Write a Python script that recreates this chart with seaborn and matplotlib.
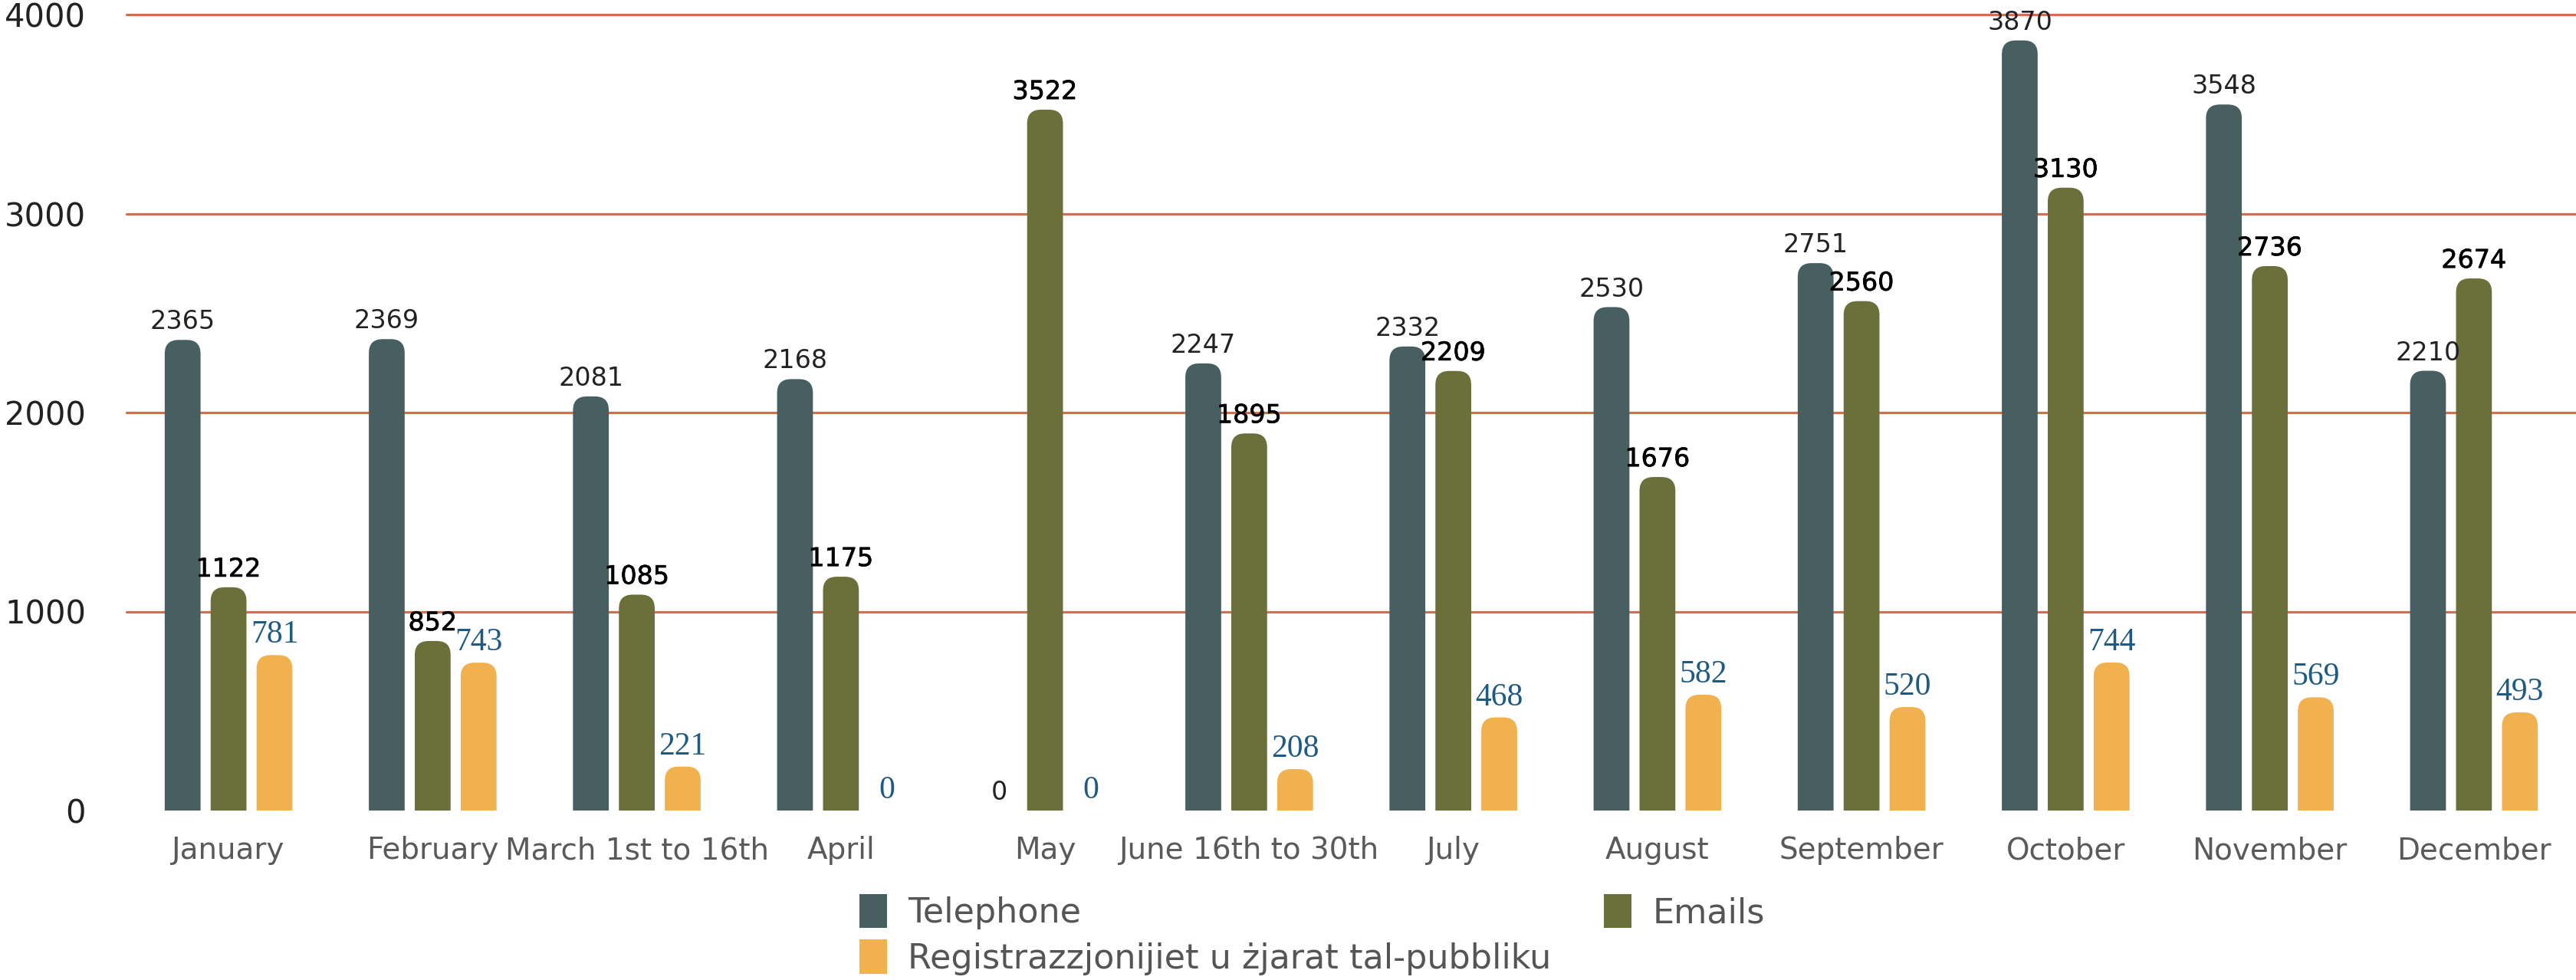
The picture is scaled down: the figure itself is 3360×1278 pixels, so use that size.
import numpy as np
import pandas as pd
import matplotlib
matplotlib.use("Agg")
import matplotlib.pyplot as plt
import matplotlib.patches as mpatches
import matplotlib.patheffects as pe
from matplotlib.patches import FancyBboxPatch
import seaborn as sns

# dati
xhur = ["January", "February", "March 1st to 16th", "April", "May", "June 16th to 30th",
        "July", "August", "September", "October", "November", "December"]
telephone = [2365, 2369, 2081, 2168, 0, 2247, 2332, 2530, 2751, 3870, 3548, 2210]
emails = [1122, 852, 1085, 1175, 3522, 1895, 2209, 1676, 2560, 3130, 2736, 2674]
registrazzjonijiet = [781, 743, 221, 0, 0, 208, 468, 582, 520, 744, 569, 493]
serje = ["Telephone", "Emails", "Registrazzjonijiet u żjarat tal-pubbliku"]
yticks = [0, 1000, 2000, 3000, 4000]

kuluri = ["#485f62", "#6b6f3a", "#f0b14e"]

df = pd.DataFrame({
    "month": xhur * 3,
    "series": np.repeat(serje, len(xhur)),
    "value": telephone + emails + registrazzjonijiet,
})

sns.set_style("white")
plt.rcParams["font.family"] = ["DejaVu Sans"]

fig = plt.figure(figsize=(33.6, 12.78), dpi=100)
ax = fig.add_axes([165 / 3360, 1 - 1057 / 1278, 1 - 165 / 3360, (1057 - 19) / 1278])

sns.barplot(data=df, x="month", y="value", hue="series", palette=kuluri,
            width=0.675, gap=0.22, saturation=1, errorbar=None,
            legend=False, ax=ax)

ax.set_xlim(-0.5, 11.5)
ax.set_ylim(0, 4000)
ax.set_yticks(yticks)
ax.set_xlabel("")
ax.set_ylabel("")
ax.tick_params(axis="y", length=0, pad=38, labelsize=30, labelcolor="#222222")
ax.tick_params(axis="x", length=0, pad=24, labelsize=28, labelcolor="#5a5a5a")
sns.despine(ax=ax, left=True, bottom=True)

# linji orizzontali (minghajr dik taz-zero)
for y in yticks[1:]:
    ax.axhline(y, color="#d0704f", lw=2.3, zorder=0, clip_on=False)

# etikketti fuq il-bars
stili = [
    dict(color="#222222", fontsize=24),
    dict(color="black", fontsize=24,
         path_effects=[pe.withStroke(linewidth=0.5, foreground="black")]),
    dict(color="#1f5a80", fontsize=30, family="Liberation Serif"),
]
for cont, st in zip(ax.containers, stili):
    ax.bar_label(cont, padding=5, **st)

# bars b'quċċata tond
pos = ax.get_position()
W = pos.width * fig.get_figwidth() * fig.dpi
H = pos.height * fig.get_figheight() * fig.dpi
xu = 12 / W
yu = 4000 / H
aspect = yu / xu
r = 18 * xu
for cont, col in zip(ax.containers, kuluri):
    for bar in cont:
        h = bar.get_height()
        bar.set_visible(False)
        if h <= 0:
            continue
        box = FancyBboxPatch((bar.get_x(), -r * aspect), bar.get_width(), h + r * aspect,
                             boxstyle=f"round,pad=0,rounding_size={r}",
                             mutation_aspect=aspect, facecolor=col,
                             edgecolor="none", zorder=2)
        ax.add_patch(box)

handles = [mpatches.Patch(facecolor=kuluri[i], edgecolor="none", label=serje[i]) for i in (0, 2, 1)]
fig.legend(handles=handles, ncol=2, loc="upper left",
           bbox_to_anchor=(1121 / 3360, 1 - 1166 / 1278),
           frameon=False, fontsize=32, handlelength=0.8, handleheight=1.15,
           handletextpad=0.62, columnspacing=1.55, labelspacing=0.3,
           borderpad=0, borderaxespad=0, labelcolor="#555555")

fig.savefig("out.png", dpi=100, facecolor="white")
